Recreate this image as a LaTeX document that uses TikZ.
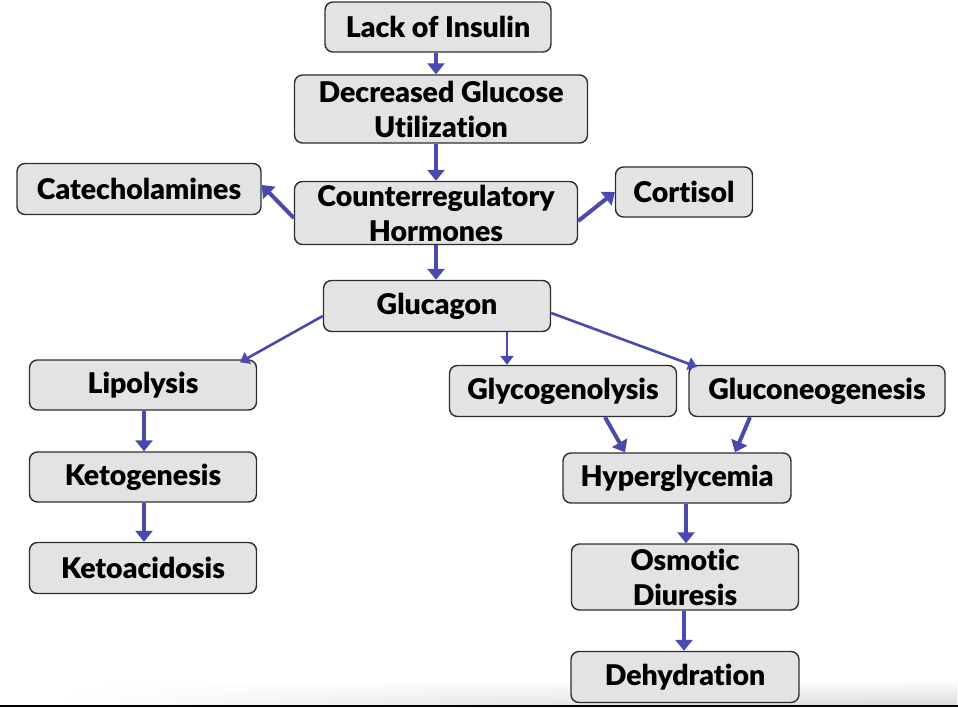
\documentclass[tikz,border=0pt]{standalone}
\usepackage{fontspec}
\setmainfont{Lato}[BoldFont={* Black}, RawFeature={-liga}]
\usetikzlibrary{arrows.meta,calc,fadings}
\definecolor{boxfill}{HTML}{E3E3E3}
\definecolor{boxline}{HTML}{2E2E2E}
\definecolor{arrowblue}{HTML}{4A4AAE}
\tikzset{
  box/.style={draw=boxline, line width=1.4pt, fill=boxfill, rounded corners=8pt,
    align=center, font=\fontsize{28.5}{35}\selectfont\bfseries, inner sep=0pt},
  thick arrow/.style={draw=arrowblue, line width=4pt,
    -{Triangle[width=17pt,length=11pt]}},
  thin arrow/.style={draw=arrowblue, line width=2.6pt,
    -{Triangle[width=13pt,length=9pt]}},
}
\begin{document}
\begin{tikzpicture}[x=1pt,y=-1pt]
\useasboundingbox (0,0) rectangle (958,707);
\shade[left color=white, right color=black!14, middle color=black!10, path fading=north, draw=none] (60,680) rectangle (958,705);
\draw[black, line width=2pt] (0,706) -- (958,706);

\node[box, minimum width=226pt, minimum height=50pt] (lack) at (438,27) {Lack of Insulin};
\node[box, minimum width=293pt, minimum height=68pt] (dec) at (441,109) {Decreased Glucose\\Utilization};
\node[box, minimum width=283pt, minimum height=63pt] (cr) at (436,213) {Counterregulatory\\Hormones};
\node[box, minimum width=244pt, minimum height=51pt] (cat) at (139,189) {Catecholamines};
\node[box, minimum width=137pt, minimum height=50pt] (cort) at (684,192) {Cortisol};
\node[box, minimum width=227pt, minimum height=51pt] (glu) at (437,306) {Glucagon};
\node[box, minimum width=227pt, minimum height=50pt] (lip) at (143,385) {Lipolysis};
\node[box, minimum width=227pt, minimum height=51pt] (gly) at (563,391) {Glycogenolysis};
\node[box, minimum width=256pt, minimum height=51pt] (gng) at (817,391) {Gluconeogenesis};
\node[box, minimum width=227pt, minimum height=50pt] (keto) at (143,477) {Ketogenesis};
\node[box, minimum width=227pt, minimum height=51pt] (ka) at (143,568) {Ketoacidosis};
\node[box, minimum width=228pt, minimum height=50pt] (hyp) at (677,478) {Hyperglycemia};
\node[box, minimum width=227pt, minimum height=66pt] (osm) at (685,577) {Osmotic\\Diuresis};
\node[box, minimum width=228pt, minimum height=51pt] (deh) at (685,677) {Dehydration};

% connectors
\draw[thick arrow] ([xshift=-2pt]lack.south) -- ([xshift=-5pt]dec.north);
\draw[thick arrow] ([xshift=-5pt]dec.south) -- (cr.north);
\draw[thick arrow] ([yshift=-5pt]cr.west) -- ([yshift=4pt]cat.east);
\draw[thick arrow] ([yshift=-8pt]cr.east) -- (cort.west);
\draw[thick arrow] (cr.south) -- ([xshift=-1pt]glu.north);
\draw[thin arrow] ([yshift=-10pt]glu.west) -- ([xshift=97pt,yshift=-3pt]lip.north);
\draw[thin arrow] ([xshift=70pt]glu.south) -- ([xshift=-56pt]gly.north);
\draw[thin arrow] ([yshift=-7pt]glu.east) -- ([xshift=-120pt,yshift=-2pt]gng.north);
\draw[thick arrow] ([xshift=42pt]gly.south) -- ([xshift=-52pt]hyp.north);
\draw[thick arrow] ([xshift=-67pt]gng.south) -- ([xshift=58pt]hyp.north);
\draw[thick arrow] ([xshift=1pt]lip.south) -- ([xshift=1pt]keto.north);
\draw[thick arrow] ([xshift=1pt]keto.south) -- ([xshift=1pt]ka.north);
\draw[thick arrow] ([xshift=9pt]hyp.south) -- ([xshift=1pt]osm.north);
\draw[thick arrow] ([xshift=-1pt]osm.south) -- ([xshift=-1pt]deh.north);
\end{tikzpicture}
\end{document}
